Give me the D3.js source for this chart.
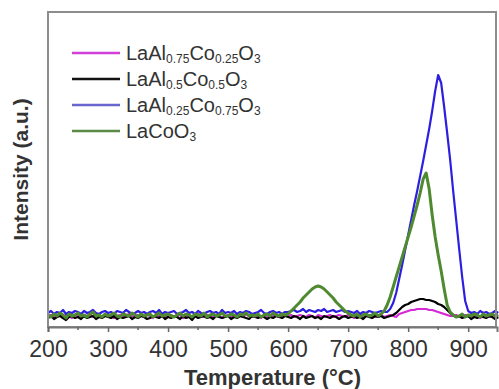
<!DOCTYPE html>
<html>
<head>
<meta charset="utf-8">
<script src="https://cdn.jsdelivr.net/npm/d3@7"></script>
<style>
body { margin: 0; background: #fff; }
text { font-family: "Liberation Sans", Arial, sans-serif; fill: #333; }
</style>
</head>
<body>
<svg id="chart"></svg>
<script>
// sample grid, 200..950 every 5 degC
const temps = d3.range(200, 951, 5);

const seriesNames = ["LaAl_{0.75}Co_{0.25}O_{3}", "LaAl_{0.5}Co_{0.5}O_{3}", "LaAl_{0.25}Co_{0.75}O_{3}", "LaCoO_{3}"];
const seriesColors = ["#d62ad6", "#000000", "#2d1fe0", "#4f8a30"];
const legendColors = ["#d040d8", "#111111", "#6a66d0", "#5b8a45"];

const magenta = [-1,0,-2,-1,1,-2,0,-1,-3,0, -1,-2,0,-1,1,-2,-1,0,-2,-1, 0,-1,-3,-1,0,-2,-1,1,-1,-2, 0,-1,-2,0,-1,-3,0,-1,1,-2,
  -1,0,-2,-1,0,-3,-1,0,-2,-1, 1,-1,-2,0,-1,-2,0,-1,-3,-1, 0,-2,-1,0,-1,-2,1,-1,-2,0, -1,-3,0,-1,-2,0,-1,-2,0,-1,
  -1,0,-2,-1,0,-1,-2,0,-1,-3, 0,-1,-2,-1,0,-2,-1,0,-1,-2, 0,-1,-3,-1,0,-2,-1,0,-1,-2, -1,0,-2,-1,0,-1,-2,
  1,2,3,4,5,5,6,6,6,6,5,5,4,3,2,1,0,-1,-1,
  0,-2,-1,0,-1,-2,0,-1,-3,-1,0,-2,-1,0,-1];

const black = [-3,-1,-4,-2,-1,-3,-5,-2,-1,-3, -2,-4,-1,-3,-2,-1,-4,-2,-3,-1, -2,-3,-1,-4,-2,-3,-2,-1,-4,-2, -3,-1,-2,-4,-3,-1,-2,-3,-1,-4,
  -2,-3,-1,-2,-4,-1,-3,-2,-5,-1, -3,-2,-1,-3,-2,-4,-1,-2,-3,-2, -1,-4,-2,-3,-1,-2,-3,-4,-1,-2, -3,-1,-2,-4,-2,-3,-1,-2,-3,-1,
  -2,-3,-1,-2,-4,-1,-3,-2,-1,-3, -2,-4,-1,-2,-3,-1,-2,-4,-2,-1, -3,-2,-1,-3,-2,-4,-1,-2,-3,-1, -2,-1,-3,-2,-1,
  0,2,5,8,10,11,13,14,15,16,16,15,15,14,13,11,10,8,5,2,0,
  -2,-1,-3,-2,-1,-4,-2,-3,-1,-2,-3,-1,-2,-4,-2];

const blue = [2,4,1,3,2,5,1,3,2,4, 3,1,4,2,3,5,2,1,3,4, 2,3,1,4,3,2,5,3,1,2, 4,2,3,1,3,4,2,5,1,3,
  2,3,4,1,2,3,5,2,3,1, 4,2,1,3,4,2,3,1,5,2, 3,2,4,1,3,2,4,3,1,2, 3,5,2,1,3,4,2,3,1,3,
  3,4,5,3,4,6,3,5,4,3,5,4,6,3,4,5,3,4,5,3,4,
  3,2,4,1,3,2,4,3,2,3,4,3,
  3,6,12,22,36,50,65,80,95,110,124,139,154,170,186,204,224,240,232,208,182,155,124,95,66,38,14,4,
  2,3,1,4,2,3,1,2,4,2];

const green = [0,-2,1,-1,2,0,-3,1,-1,0, 2,-1,0,-2,1,3,-1,0,-2,1, -1,0,2,-1,-2,1,0,-1,2,0, -2,1,-1,0,1,-2,0,2,-1,0,
  1,-1,-2,0,2,-1,1,0,-2,1, 0,-1,2,-2,0,1,-1,0,2,-1, -1,1,0,-2,1,0,2,-1,0,-1, 1,-2,0,1,-1,2,0,-1,1,0,
  1,4,7,10,13,17,20,23,26,28,29,28,26,23,20,17,13,10,7,4,2,
  0,-1,1,-2,0,1,-1,0,2,-1,
  1,4,10,18,28,38,48,58,68,78,88,99,110,122,136,142,126,100,78,60,44,26,10,3,
  0,-2,-1,1,-2,0,-1,1,0,-2,1,-1,0,1,-1,0];

const seriesValues = [magenta, black, blue, green];
const seriesWidths = [2.2, 2.2, 2.2, 3];

const xTicks = [200, 300, 400, 500, 600, 700, 800, 900];
const xMinorTicks = [250, 350, 450, 550, 650, 750, 850];

const width = 499, height = 389;
const margin = {top: 12, right: 2, bottom: 62, left: 48};

const svg = d3.select("#chart")
  .attr("width", width)
  .attr("height", height);

const x = d3.scaleLinear()
  .domain([200, 948])
  .range([margin.left, width - margin.right]);

const y = d3.scaleLinear()
  .domain([-12, 303])
  .range([height - margin.bottom, margin.top]);

const line = d3.line()
  .x((d, i) => x(temps[i]))
  .y(d => y(d));

// curves
svg.append("g")
  .selectAll("path")
  .data(seriesValues)
  .enter()
  .append("path")
  .attr("fill", "none")
  .attr("stroke", (d, i) => seriesColors[i])
  .attr("stroke-width", (d, i) => seriesWidths[i])
  .attr("stroke-linejoin", "round")
  .attr("d", line);

// frame
svg.append("rect")
  .attr("x", margin.left)
  .attr("y", margin.top)
  .attr("width", width - margin.right - margin.left - 1)
  .attr("height", height - margin.bottom - margin.top)
  .attr("fill", "none")
  .attr("stroke", "#8c8c8c")
  .attr("stroke-width", 2);

// x axis
const xAxis = d3.axisBottom(x)
  .tickValues(xTicks)
  .tickSize(5)
  .tickPadding(9)
  .tickFormat(d3.format("d"));

const gx = svg.append("g")
  .attr("transform", `translate(0,${height - margin.bottom})`)
  .call(xAxis);

gx.select(".domain").attr("stroke", "#777").attr("stroke-width", 2);
gx.selectAll(".tick line").attr("stroke", "#666").attr("stroke-width", 1.5);
gx.selectAll(".tick text")
  .style("font-size", "23px")
  .attr("fill", "#333");

gx.selectAll("line.minor")
  .data(xMinorTicks)
  .enter()
  .append("line")
  .attr("class", "minor")
  .attr("x1", d => x(d))
  .attr("x2", d => x(d))
  .attr("y1", 0)
  .attr("y2", 3)
  .attr("stroke", "#666")
  .attr("stroke-width", 1.5);

// axis titles
svg.append("text")
  .attr("x", (margin.left + width - margin.right) / 2)
  .attr("y", 385)
  .attr("text-anchor", "middle")
  .style("font-size", "22px")
  .style("font-weight", "bold")
  .text("Temperature (°C)");

svg.append("text")
  .attr("transform", `translate(28,${(margin.top + height - margin.bottom) / 2}) rotate(-90)`)
  .attr("text-anchor", "middle")
  .style("font-size", "21px")
  .style("font-weight", "bold")
  .text("Intensity (a.u.)");

// legend
const legend = svg.append("g")
  .selectAll("g")
  .data(seriesNames)
  .enter()
  .append("g")
  .attr("transform", (d, i) => `translate(72,${53 + i * 26})`);

legend.append("line")
  .attr("x1", 0)
  .attr("x2", 48)
  .attr("stroke", (d, i) => legendColors[i])
  .attr("stroke-width", 2.5);

// subscripts written as _{..}; shift down, then back up for the next part
legend.append("text")
  .attr("x", 54)
  .attr("y", 7)
  .style("font-size", "20px")
  .each(function(d) {
    const t = d3.select(this);
    let shifted = false;
    d.split(/(_\{[^}]*\})/).filter(s => s.length).forEach(s => {
      if (s.startsWith("_{")) {
        t.append("tspan")
          .attr("dy", 3)
          .style("font-size", "12px")
          .text(s.slice(2, -1));
        shifted = true;
      } else {
        t.append("tspan")
          .attr("dy", shifted ? -3 : 0)
          .text(s);
        shifted = false;
      }
    });
  });
</script>
</body>
</html>
